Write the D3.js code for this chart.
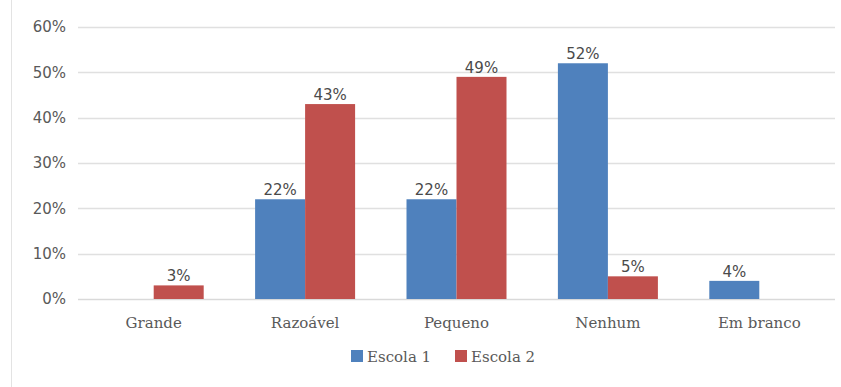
<!DOCTYPE html>
<html>
<head>
<meta charset="utf-8">
<script src="https://cdn.jsdelivr.net/npm/d3@7"></script>
<style>
  body { margin: 0; background: #fff; }
  .tick text { fill: #595959; }
</style>
</head>
<body>
<div id="chart"></div>
<script>
// data
var categories = ["Grande", "Razoável", "Pequeno", "Nenhum", "Em branco"];
var seriesNames = ["Escola 1", "Escola 2"];
var escola1 = [0, 22, 22, 52, 4];
var escola2 = [3, 43, 49, 5, 0];
var yTicks = [0, 10, 20, 30, 40, 50, 60];
var colors = ["#4F81BD", "#C0504D"];

var W = 841, H = 387;
var margin = {top: 27, right: 6, bottom: 88, left: 78},
    width = W - margin.left - margin.right,
    height = H - margin.top - margin.bottom;

const svg = d3.select("#chart")
  .append("svg")
  .attr("width", W)
  .attr("height", H);

// faint chart border on the left
svg.append("line")
  .attr("x1", 11.5).attr("x2", 11.5)
  .attr("y1", 0).attr("y2", H)
  .attr("stroke", "#e3e3e3");

const g = svg.append("g")
  .attr("transform", `translate(${margin.left},${margin.top})`);

var x0 = d3.scaleBand()
  .domain(categories)
  .range([0, width]);

var x1 = d3.scaleBand()
  .domain(seriesNames)
  .range([0, 100])
  .paddingInner(0);

var y = d3.scaleLinear()
  .domain([0, 60])
  .range([height, 0]);

// gridlines
g.append("g")
  .selectAll("line")
  .data(yTicks)
  .join("line")
  .attr("x1", 0).attr("x2", width)
  .attr("y1", d => Math.round(y(d)) + 0.5)
  .attr("y2", d => Math.round(y(d)) + 0.5)
  .attr("stroke", d => d === 0 ? "#d9d9d9" : "#e0e0e0")
  .attr("stroke-width", 1.3);

// y axis labels
const yAxis = g.append("g")
  .call(d3.axisLeft(y).tickValues(yTicks).tickFormat(d => d + "%").tickSize(0).tickPadding(12));
yAxis.select(".domain").remove();
yAxis.selectAll("text")
  .attr("font-family", "'DejaVu Sans', sans-serif")
  .attr("font-size", 15);

// x axis labels
const xAxis = g.append("g")
  .attr("transform", `translate(0,${height})`)
  .call(d3.axisBottom(x0).tickSize(0).tickPadding(18));
xAxis.select(".domain").remove();
xAxis.selectAll("text")
  .attr("font-family", "'DejaVu Serif', serif")
  .attr("font-size", 15);

var rows = categories.map((c, i) => ({cat: c, vals: [escola1[i], escola2[i]]}));

const groups = g.selectAll(".grp")
  .data(rows)
  .join("g")
  .attr("class", "grp")
  .attr("transform", d => `translate(${x0(d.cat) + x0.bandwidth() / 2 - 50},0)`);

groups.selectAll("rect")
  .data(d => d.vals.map((v, j) => ({name: seriesNames[j], v: v, j: j})).filter(e => e.v > 0))
  .join("rect")
  .attr("x", d => x1(d.name))
  .attr("y", d => y(d.v))
  .attr("width", x1.bandwidth())
  .attr("height", d => y(0) - y(d.v))
  .attr("fill", d => colors[d.j]);

groups.selectAll("text")
  .data(d => d.vals.map((v, j) => ({name: seriesNames[j], v: v, j: j})).filter(e => e.v > 0))
  .join("text")
  .attr("x", d => x1(d.name) + x1.bandwidth() / 2)
  .attr("y", d => y(d.v) - 4)
  .attr("text-anchor", "middle")
  .attr("font-family", "'DejaVu Sans', sans-serif")
  .attr("font-size", 15)
  .attr("fill", "#4a4a4a")
  .text(d => d.v + "%");

// legend
var legendX = [351, 455];
const legend = svg.append("g").attr("transform", "translate(0,350)");
seriesNames.forEach((s, i) => {
  legend.append("rect")
    .attr("x", legendX[i]).attr("y", 0)
    .attr("width", 12).attr("height", 12)
    .attr("fill", colors[i]);
  legend.append("text")
    .attr("x", legendX[i] + 16).attr("y", 11.5)
    .attr("font-family", "'DejaVu Serif', serif")
    .attr("font-size", 15)
    .attr("fill", "#595959")
    .text(s);
});
</script>
</body>
</html>
